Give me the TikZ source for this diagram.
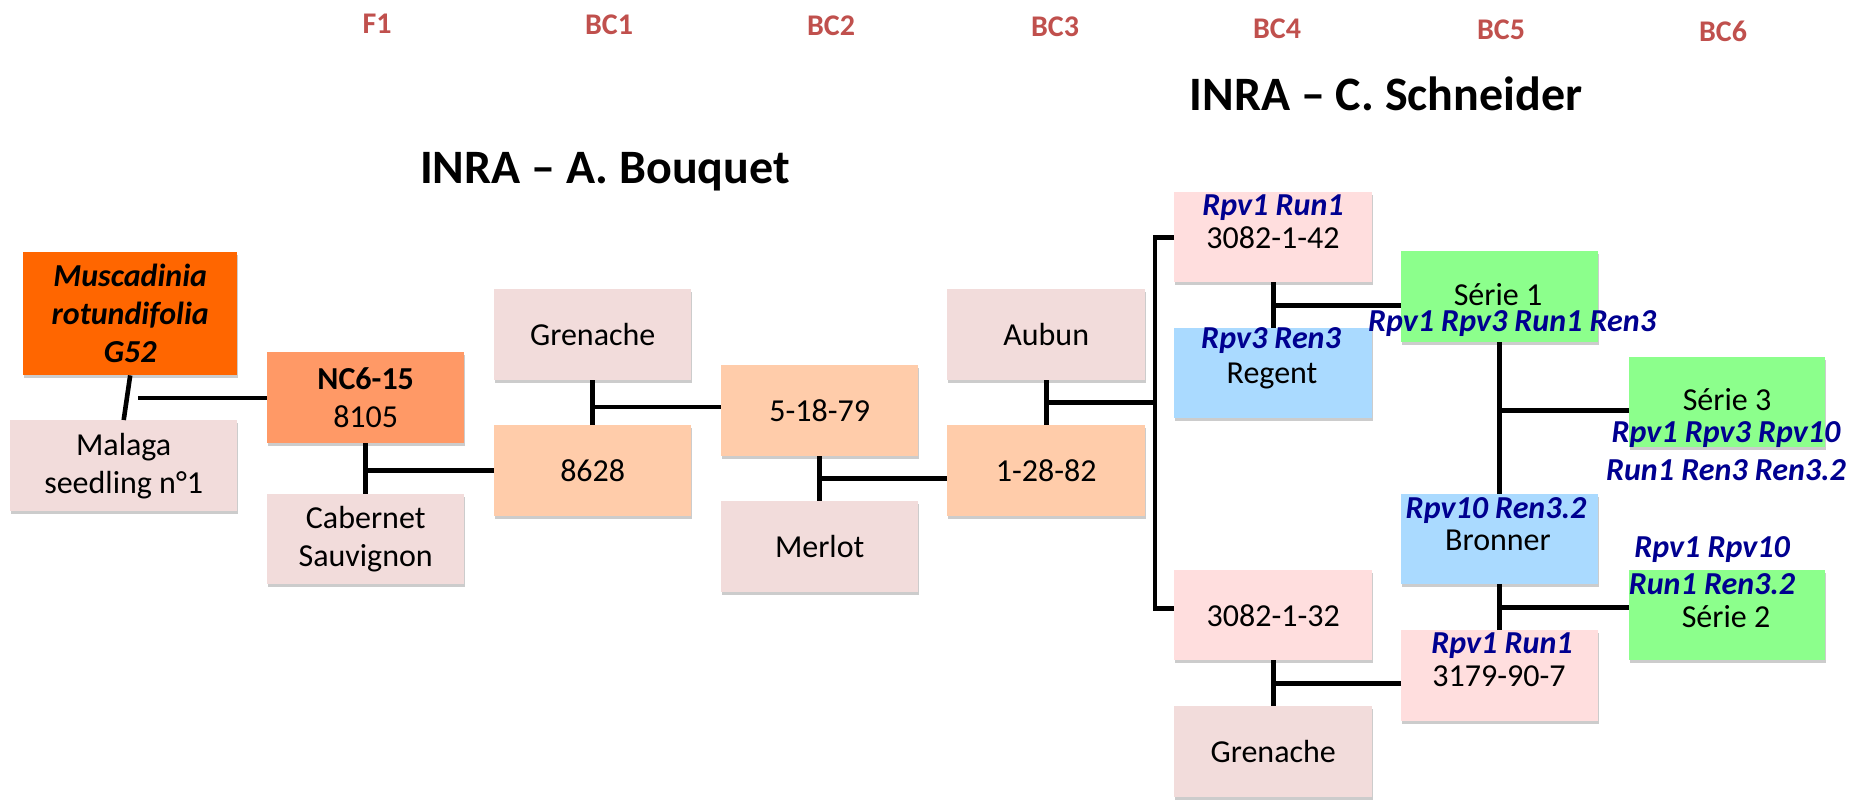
\documentclass[tikz,border=0pt]{standalone}
\usepackage{fontspec}
\setmainfont{Carlito}
\usetikzlibrary{shadows,calc}
\definecolor{orDark}{HTML}{FF6600}
\definecolor{orMid}{HTML}{FF9966}
\definecolor{peach}{HTML}{FFCCAA}
\definecolor{grayPink}{HTML}{F2DCDB}
\definecolor{lightPink}{HTML}{FFDEDE}
\definecolor{lightBlue}{HTML}{AADAFF}
\definecolor{brightGreen}{HTML}{8CFF8C}
\definecolor{navyText}{HTML}{000090}
\definecolor{bcRed}{HTML}{C0504D}
\begin{document}
\begin{tikzpicture}[x=1pt,y=-1pt,
  box/.style={rectangle, inner sep=0pt, anchor=north west, minimum width=197pt, minimum height=91pt, align=center, font=\fontsize{32}{38}\selectfont, drop shadow={shadow xshift=1pt, shadow yshift=-3pt, opacity=0.2, fill=black}},
  link/.style={line width=4.6pt, line join=miter},
  gene/.style={anchor=base, font=\fontsize{32}{38}\selectfont\bfseries\itshape, text=navyText, inner sep=0pt},
  cultivar/.style={anchor=base, font=\fontsize{32}{38}\selectfont, inner sep=0pt},
  gentag/.style={anchor=base, font=\fontsize{30}{36}\selectfont\bfseries, text=bcRed, inner sep=0pt},
  heading/.style={anchor=base, font=\fontsize{48}{56}\selectfont\bfseries, inner sep=0pt}]
\useasboundingbox (0,0) rectangle (1865,807);

% generation labels
\node[gentag] (f1) at (377,33) {F1};
\node[gentag] (bc1) at (609,34) {BC1};
\node[gentag] (bc2) at (831,35) {BC2};
\node[gentag] (bc3) at (1055,36) {BC3};
\node[gentag] (bc4) at (1277,38) {BC4};
\node[gentag] (bc5) at (1501,39) {BC5};
\node[gentag] (bc6) at (1723,41) {BC6};

% titles
\node[heading] (schneider) at (1386,110) {INRA – C. Schneider};
\node[heading] (bouquet) at (605,183) {INRA – A. Bouquet};

% boxes
\node[box, fill=orDark, minimum width=214pt, minimum height=123pt, font=\fontsize{32}{38}\selectfont\bfseries\itshape] (mus) at (23,252) {Muscadinia\\rotundifolia\\G52};
\node[box, fill=grayPink, minimum width=227pt] (mal) at (10,420) {Malaga\\seedling n°1};
\node[box, fill=orMid] (nc) at (267,352) {\textbf{NC6-15}\\8105};
\node[box, fill=grayPink, minimum height=90pt] (cab) at (267,494) {Cabernet\\Sauvignon};
\node[box, fill=grayPink] (gre1) at (494,289) {Grenache};
\node[box, fill=peach] (c8628) at (494,425) {8628};
\node[box, fill=peach] (c51879) at (721,365) {5-18-79};
\node[box, fill=grayPink] (mer) at (721,501) {Merlot};
\node[box, fill=grayPink, minimum width=198pt] (aub) at (947,289) {Aubun};
\node[box, fill=peach, minimum width=198pt] (c12882) at (947,425) {1-28-82};
\node[box, fill=lightPink, minimum width=198pt, minimum height=90pt] (c308242) at (1174,192) {};
\node[box, fill=lightBlue, minimum width=198pt, minimum height=90pt] (reg) at (1174,328) {};
\node[box, fill=brightGreen] (s1) at (1401,251) {};
\node[box, fill=brightGreen, minimum width=196pt, minimum height=90pt] (s3) at (1629,357) {};
\node[box, fill=lightBlue, minimum height=90pt] (bro) at (1401,494) {};
\node[box, fill=brightGreen, minimum width=196pt, minimum height=90pt] (s2) at (1629,570) {};
\node[box, fill=lightPink, minimum width=198pt, minimum height=90pt] (c308232) at (1174,570) {3082-1-32};
\node[box, fill=lightPink] (c3179) at (1401,630) {};
\node[box, fill=grayPink, minimum width=198pt] (gre2) at (1174,706) {Grenache};

% texts of the right-hand boxes
\node[gene] (g308242) at (1273,215) {Rpv1 Run1};
\node[cultivar] (n308242) at (1273,248) {3082-1-42};
\node[gene] (greg) at (1271,348) {Rpv3 Ren3};
\node[cultivar] (nreg) at (1272,383) {Regent};
\node[cultivar] (ns1) at (1498,305) {Série 1};
\node[gene] (gs1) at (1512,331) {Rpv1 Rpv3 Run1 Ren3};
\node[cultivar] (ns3) at (1727,410) {Série 3};
\node[gene] (gs3a) at (1726,442) {Rpv1 Rpv3 Rpv10};
\node[gene] (gs3b) at (1726,480) {Run1 Ren3 Ren3.2};
\node[gene] (gbro) at (1496,518) {Rpv10 Ren3.2};
\node[cultivar] (nbro) at (1498,550) {Bronner};
\node[gene] (gs2a) at (1712,557) {Rpv1 Rpv10};
\node[gene] (gs2b) at (1712,594) {Run1 Ren3.2};
\node[cultivar] (ns2) at (1726,627) {Série 2};
\node[gene] (g3179) at (1502,653) {Rpv1 Run1};
\node[cultivar] (n3179) at (1499,686) {3179-90-7};

% connectors
\coordinate (musjoin) at (138,398);
\coordinate (bus) at (1155,0);
\draw[link] (mus.south) -- (mal.north);
\draw[link] (musjoin) -- (nc.west |- musjoin);

\draw[link] (nc.south) -- (cab.north);
\draw[link] (c8628.west) -- (c8628.west -| nc.south);

\draw[link] (gre1.south) -- (c8628.north);
\coordinate (j1) at ($(gre1.south)!0.6!(c8628.north)$);
\draw[link] (j1) -- (j1 -| c51879.west);

\draw[link] (c51879.south) -- (mer.north);
\coordinate (j2) at ($(c51879.south)!0.5!(mer.north)$);
\draw[link] (j2) -- (j2 -| c12882.west);

\draw[link] (aub.south) -- (c12882.north);
\coordinate (j3) at ($(aub.south)!0.5!(c12882.north)$);
\draw[link] (j3) -- (j3 -| bus);

\coordinate (j4) at ([yshift=7pt]c308232.west);
\draw[link] (c308242.west) -- (c308242.west -| bus) -- (j4 -| bus) -- (j4);

\draw[link] (c308242.south) -- (reg.north);
\coordinate (j5) at ($(c308242.south)!0.5!(reg.north)$);
\draw[link] (j5) -- (j5 -| s1.west);

\draw[link] (s1.south) -- (bro.north);
\coordinate (j6) at ([yshift=-8pt]s3.west);
\draw[link] (j6) -- (j6 -| s1.south);

\draw[link] (bro.south) -- (c3179.north);
\coordinate (j7) at ($(bro.south)!0.5!(c3179.north)$);
\draw[link] (j7) -- (j7 -| s2.west);

\draw[link] (c308232.south) -- (gre2.north);
\coordinate (j8) at ($(c308232.south)!0.5!(gre2.north)$);
\draw[link] (j8) -- (j8 -| c3179.west);
\end{tikzpicture}
\end{document}
